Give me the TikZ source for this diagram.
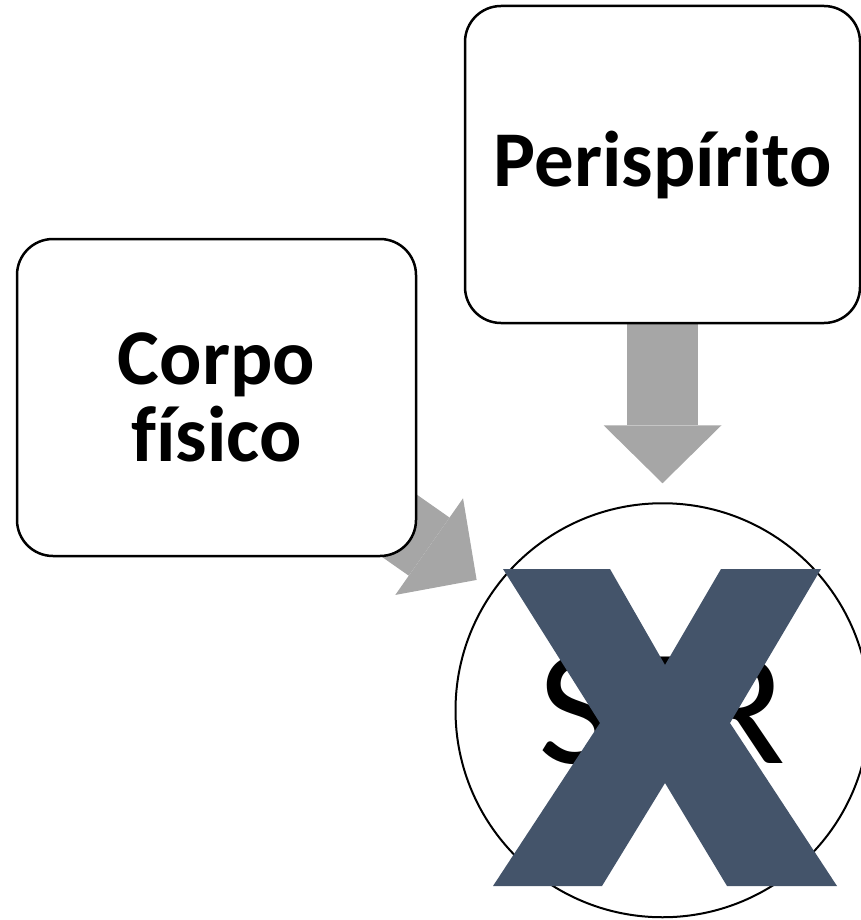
\documentclass[tikz,border=0pt]{standalone}
\usepackage{fontspec}
\setmainfont{Carlito}[Ligatures=NoCommon]
\usetikzlibrary{arrows.meta,backgrounds,positioning}
\definecolor{arrowgray}{RGB}{166,166,166}
\definecolor{slate}{RGB}{68,84,106}
\tikzset{
	flow/.style={
		draw=arrowgray,
		line width=71pt,
		-{Triangle[width=118pt,length=58pt,line width=0pt]},
		shorten >=19pt
	}
}

\begin{document}
\begin{tikzpicture}[x=1pt,y=-1pt]
		\tikzstyle{box}=[rectangle, rounded corners=36pt, draw=black, line width=2.5pt, fill=white, minimum height=317pt, align=center, font=\fontsize{79}{77}\selectfont\bfseries]
		\tikzstyle{soul}=[circle, draw=black, line width=2pt, minimum size=414pt, inner sep=0pt, font=\fontsize{166}{166}\selectfont]
		\useasboundingbox (0,0) rectangle (861,920);
		
		\node[box, minimum width=399pt] (corpo) at (216.5,397.5) {Corpo\\físico};
		\node[box, minimum width=395pt] (peri) at (662.5,164.5) {Perispírito};
		\node[soul] (ser) [below=178pt of peri] {SER};
		
		\begin{scope}[on background layer]
		\path
		(corpo.center) edge [flow] (ser)
		(peri.center) edge [flow] (ser)
		;
		\end{scope}
		
		% big cross over the circle
		\fill [slate] (503,569) -- (610,569) -- (665,665) -- (721,569) -- (821,569) -- (730,723) -- (837,886) -- (727,886) -- (665,783) -- (602,886) -- (493,886) -- (600,723) -- cycle;
		
\end{tikzpicture}
\end{document}
